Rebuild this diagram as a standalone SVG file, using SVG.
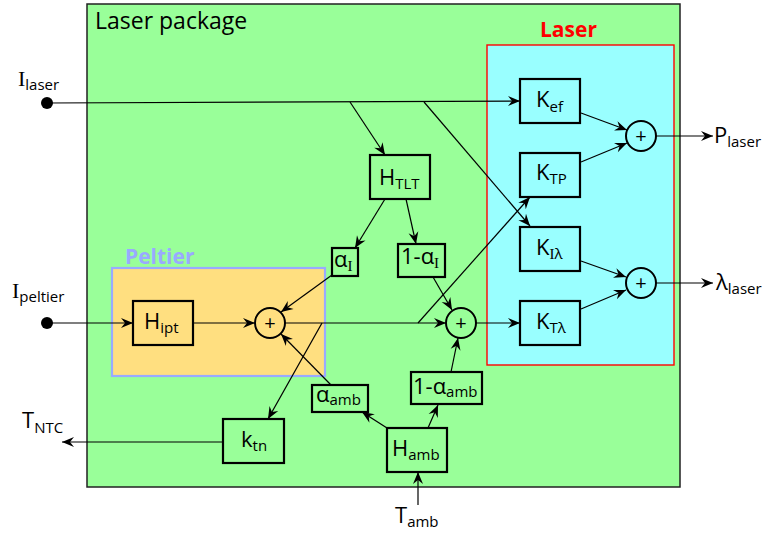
<svg xmlns="http://www.w3.org/2000/svg" width="767" height="534" viewBox="0 0 767 534">
<defs>
<style>
.t{font-family:"Open Sans","DejaVu Sans",sans-serif;font-size:22px;fill:#000}
.s{font-size:15px}
.sf{font-family:"Liberation Serif","DejaVu Serif",serif}
.box{fill:none;stroke:#000;stroke-width:2.2}
.sum{fill:none;stroke:#000;stroke-width:2}
.plus{font-family:"Open Sans","DejaVu Sans",sans-serif;font-size:20px;fill:#000;text-anchor:middle}
.c{fill:none;stroke:#000;stroke-width:1.2;marker-end:url(#ah)}
.cn{fill:none;stroke:#000;stroke-width:1.2}
</style>
<marker id="ah" viewBox="-13 -6 14 12" refX="0" refY="0" markerWidth="14" markerHeight="12" markerUnits="userSpaceOnUse" orient="auto">
<path d="M0,0 L-12,-5 L-8,0 L-12,5 Z" fill="#000"/>
</marker>
</defs>

<g id="package">
<rect x="87" y="4" width="593" height="483" fill="#99ff99" stroke="#222" stroke-width="1.5"/>
<text class="t" x="95" y="29" style="font-size:23px">Laser package</text>
</g>
<g id="laser">
<rect x="487" y="45" width="187" height="320" fill="#99ffff" stroke="#ff0000" stroke-width="1.4"/>
<text x="540" y="37" style="font-family:'Open Sans','DejaVu Sans',sans-serif;font-size:21px;font-weight:bold;fill:#ff0000">Laser</text>
</g>
<g id="peltier">
<rect x="112" y="268" width="213" height="108" fill="#ffdf80" stroke="#99aaff" stroke-width="2.2"/>
<text x="125" y="264" style="font-family:'Open Sans','DejaVu Sans',sans-serif;font-size:21px;font-weight:bold;fill:#99aaff">Peltier</text>
</g>

<g id="connectors">
<circle cx="47" cy="103" r="6" fill="#000"/>
<circle cx="47" cy="323" r="6" fill="#000"/>
<path class="c" d="M47,103 L520,101"/>
<path class="c" d="M350,102 L385,155"/>
<path class="c" d="M424,102 L530,226"/>
<path class="c" d="M385,199 L355,248"/>
<path class="c" d="M406,199 L416,244"/>
<path class="c" d="M332,275 L281,312"/>
<path class="c" d="M331,385 L281,334"/>
<path class="c" d="M47,323 L133,323"/>
<path class="c" d="M193,323 L255,323"/>
<path class="c" d="M285,323 L446,323"/>
<path class="c" d="M322,323 L268,419"/>
<path class="c" d="M223,442 L62,442"/>
<path class="c" d="M418,323 L530,197"/>
<path class="c" d="M433,277 L452,310"/>
<path class="c" d="M451,372 L458,338"/>
<path class="c" d="M476,323 L520,323"/>
<path class="c" d="M387,428 L362,412"/>
<path class="c" d="M428,428 L438,405"/>
<path class="c" d="M418,505 L418,472"/>
<path class="c" d="M581,113 L627,130"/>
<path class="c" d="M581,162 L627,143"/>
<path class="c" d="M581,261 L626,277"/>
<path class="c" d="M581,309 L626,290"/>
<path class="c" d="M656,136 L713,136"/>
<path class="c" d="M656,283 L713,283"/>
</g>

<g id="Kef"><rect class="box" x="520" y="79" width="60" height="44"/><text class="t" x="536" y="107">K<tspan class="s" dy="5">ef</tspan></text></g>
<g id="KTP"><rect class="box" x="520" y="153" width="60" height="44"/><text class="t" x="536" y="180">K<tspan class="s" dy="4">TP</tspan></text></g>
<g id="KIl"><rect class="box" x="520" y="227" width="60" height="44"/><text class="t" x="536" y="255">K<tspan class="s" dy="4"><tspan class="sf">I</tspan>λ</tspan></text></g>
<g id="KTl"><rect class="box" x="520" y="301" width="60" height="44"/><text class="t" x="536" y="329">K<tspan class="s" dy="4">Tλ</tspan></text></g>
<g id="sumP"><circle class="sum" cx="641" cy="136" r="15"/><text class="plus" x="641" y="143">+</text></g>
<g id="sumL"><circle class="sum" cx="641" cy="283" r="15"/><text class="plus" x="641" y="290">+</text></g>
<g id="HTLT"><rect class="box" x="370" y="155" width="60" height="44"/><text class="t" x="379" y="185">H<tspan class="s" dy="4">TLT</tspan></text></g>
<g id="aI"><rect class="box" x="332" y="248" width="26" height="28"/><text class="t" x="334" y="267">α<tspan class="s sf" dy="4">I</tspan></text></g>
<g id="1maI"><rect class="box" x="398" y="244" width="47" height="33"/><text class="t" x="401" y="264">1-α<tspan class="s sf" dy="4">I</tspan></text></g>
<g id="Hipt"><rect class="box" x="133" y="301" width="60" height="44"/><text class="t" x="144" y="329">H<tspan class="s" dy="4">ipt</tspan></text></g>
<g id="sum1"><circle class="sum" cx="270" cy="323" r="15"/><text class="plus" x="270" y="330">+</text></g>
<g id="sum2"><circle class="sum" cx="461" cy="323" r="15"/><text class="plus" x="461" y="330">+</text></g>
<g id="aamb"><rect class="box" x="312" y="385" width="56" height="27"/><text class="t" x="316" y="402">α<tspan class="s" dy="3">amb</tspan></text></g>
<g id="1maamb"><rect class="box" x="411" y="372" width="71" height="32"/><text class="t" x="413" y="394">1-α<tspan class="s" dy="3">amb</tspan></text></g>
<g id="ktn"><rect class="box" x="223" y="419" width="61" height="44"/><text class="t" x="241" y="447">k<tspan class="s" dy="4">tn</tspan></text></g>
<g id="Hamb"><rect class="box" x="387" y="428" width="60" height="44"/><text class="t" x="392" y="456">H<tspan class="s" dy="4">amb</tspan></text></g>

<g id="Ilaser"><text class="t" x="18" y="86"><tspan class="sf">I</tspan><tspan class="s" dy="4">laser</tspan></text></g>
<g id="Ipeltier"><text class="t" x="12" y="298"><tspan class="sf">I</tspan><tspan class="s" dy="4">peltier</tspan></text></g>
<g id="Plaser"><text class="t" x="714" y="143">P<tspan class="s" dy="4">laser</tspan></text></g>
<g id="lambdalaser"><text class="t" x="716" y="290">λ<tspan class="s" dy="4">laser</tspan></text></g>
<g id="TNTC"><text class="t" x="22" y="428">T<tspan class="s" dy="5">NTC</tspan></text></g>
<g id="Tamb"><text class="t" x="395" y="523">T<tspan class="s" dy="4">amb</tspan></text></g>
</svg>
